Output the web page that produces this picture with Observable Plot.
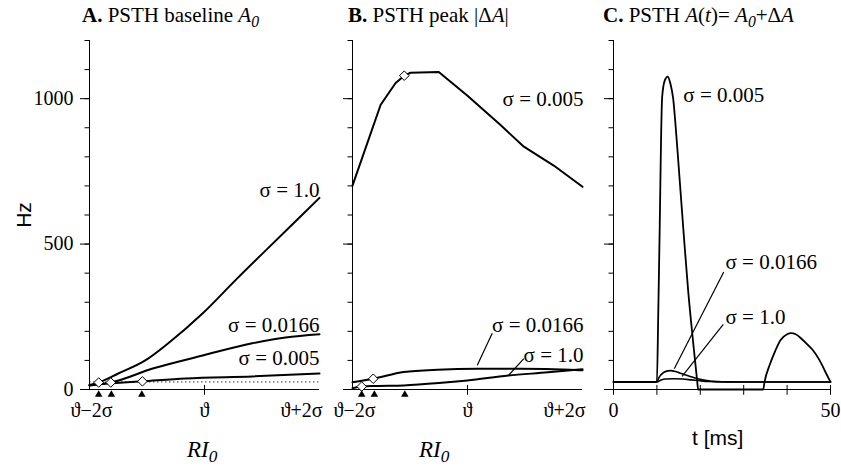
<!DOCTYPE html>
<html><head><meta charset="utf-8">
<script src="https://cdn.jsdelivr.net/npm/d3@7"></script>
<script src="https://cdn.jsdelivr.net/npm/@observablehq/plot@0.6"></script>
<style>
body{margin:0;background:#fff;}
#wrap{position:relative;width:841px;height:466px;overflow:hidden;font-family:"Liberation Serif",serif;color:#000;}
.lbl{position:absolute;white-space:nowrap;line-height:1;}
.title{font-size:21px;top:5px;}
.title i sub, .ri sub{font-size:0.75em;vertical-align:-0.3em;line-height:0;}
.ri{font-size:23px;font-style:italic;top:438px;}
.sans{font-family:"Liberation Sans",Arial,sans-serif;font-size:21px;}
.panel{position:absolute;top:0;}
</style></head><body><div id="wrap">
<div class="lbl title" style="left:82px"><b>A.</b> PSTH baseline <i>A<sub>0</sub></i></div>
<div class="lbl title" style="left:348px"><b>B.</b> PSTH peak |Δ<i>A</i>|</div>
<div class="lbl title" style="left:603px"><b>C.</b> PSTH <i>A</i>(<i>t</i>)= <i>A<sub>0</sub></i>+Δ<i>A</i></div>
<div class="lbl sans" style="left:23px;top:215px;transform:translate(-50%,-50%) rotate(-90deg);">Hz</div>
<div class="lbl ri" style="left:187px">RI<sub>0</sub></div>
<div class="lbl ri" style="left:419px">RI<sub>0</sub></div>
<div class="lbl sans" style="left:692px;top:427px;">t [ms]</div>
</div>
<script>
// ---------- data ----------
const xTicks = [-2, 0, 2];
const xTickLabels = ["ϑ−2σ", "ϑ", "ϑ+2σ"];
const yMajor = [0, 500, 1000];
const yMinor = d3.range(0, 1201, 100);
const tTicks = [0, 10, 20, 30, 40, 50];
const tTickLabels = [0, 50];
const triangleX = [-1.84, -1.62, -1.09];
const baselineRate = 26;

// Panel A: baseline A0 vs RI0 (RI0 in units of sigma around theta)
const baseS1 = [[-2,14],[-1.84,24],[-1.5,55],[-1.03,100],[-0.63,159],[-0.03,262],[0.54,376],[1.11,487],[1.7,601],[2,659]];
const baseS0166 = [[-2,14],[-1.63,24],[-0.9,72],[-0.03,117],[0.83,159],[1.41,179],[2,190]];
const baseS005 = [[-2,16],[-1.08,28],[-0.33,38],[0.83,45],[2,55]];
const baseDiamonds = [[-1.84,24],[-1.63,24],[-1.08,28]];
const labelsA = [[2,686,"σ = 1.0"],[2,221,"σ = 0.0166"],[2,107,"σ = 0.005"]];

// Panel B: peak |ΔA| vs RI0
const peakS005 = [[-2,701],[-1.51,979],[-1.25,1054],[-1.1,1079],[-0.99,1089],[-0.5,1092],[0,1010],[0.57,910],[0.98,835],[1.5,770],[2,697]];
const peakS0166 = [[-2,25],[-1.64,37],[-1.11,60],[-0.52,68],[0.17,71],[0.92,71],[1.79,68],[2,66]];
const peakS1 = [[-2,4],[-1.84,10],[-1.6,12],[-1.11,14],[-0.5,22],[0,31],[0.71,48],[1.4,59],[2,70]];
const peakDiamonds = [[-1.84,10],[-1.64,37],[-1.1,1079]];
const labelsB = [[2,997,"σ = 0.005"],[2,222,"σ = 0.0166"],[2,117,"σ = 1.0"]];
const leadersB = [[0.43,193,0.17,83],[0.98,106,0.71,48]];

// Panel C: PSTH A(t) vs t [ms]
const psthS005 = [[0,26],[10,26],[10.3,250],[10.6,514],[11.2,1003],[11.8,1062],[12.5,1076],[13.1,1052],[13.75,1000],[14.5,870],[15.3,710],[16.2,530],[17.2,340],[18.3,170],[19.3,26],[19.5,0],[34.5,0],[34.8,26],[36,85],[37.3,134],[38.5,170],[40,190],[40.9,194],[42,190],[43.5,172],[45,150],[46,134],[47.5,100],[49,55],[50,26]];
const psthS0166 = [[0,26],[10,26],[10.5,42],[11.5,58],[12.5,64],[13.2,65],[14,63],[15,58],[16,53],[17,48],[18.5,41],[20,35],[21.6,31],[23,28],[25,26.5],[30,26],[50,26]];
const psthS1 = [[0,26],[10,26],[11,33],[12,36],[14,37],[16,36],[18,33],[20,30],[22,27.5],[25,26],[50,26]];
const labelsC = [[16.1,1010,"σ = 0.005"],[25.8,438,"σ = 0.0166"],[25.8,248,"σ = 1.0"]];
const leadersC = [[25.4,404,14.0,71],[25.3,224,15.8,45]];

// ---------- drawing ----------
const X = d => d[0], Y = d => d[1];
const serif = "'Liberation Serif', 'DejaVu Serif', serif";

function yAxisMarks(withLabels) {
  return [
    Plot.axisY({ticks: yMinor, tickSize: 4.5, tickFormat: () => "", anchor: "left"}),
    Plot.axisY({ticks: yMajor, tickSize: 9, tickPadding: 7, anchor: "left",
      tickFormat: withLabels ? (d => String(d)) : (() => ""), fontSize: 20})
  ];
}

function panel(opts) {
  return Plot.plot({
    width: opts.width, height: 466,
    marginTop: 40, marginBottom: 77, marginLeft: opts.ml, marginRight: opts.mr,
    x: {domain: opts.xDomain, axis: null, label: null},
    y: {domain: [0, 1200], axis: null, label: null},
    style: {fontFamily: serif, fontSize: "20px", background: "transparent", overflow: "visible", color: "#000"},
    marks: opts.marks
  });
}

function xLabelMarks() {
  return [
    Plot.text(xTicks, {filter: (d, i) => i === 0, x: d => d, y: 0, dy: 21, dx: 2, text: (d) => xTickLabels[xTicks.indexOf(d)], fontSize: 20}),
    Plot.text(xTicks, {filter: (d, i) => i === 1, x: d => d, y: 0, dy: 21, text: (d) => xTickLabels[xTicks.indexOf(d)], fontSize: 20}),
    Plot.text(xTicks, {filter: (d, i) => i === 2, x: d => d, y: 0, dy: 21, dx: 3, textAnchor: "end", text: (d) => xTickLabels[xTicks.indexOf(d)], fontSize: 20})
  ];
}

const lineOpt = {x: X, y: Y, stroke: "#000", strokeWidth: 2, curve: "monotone-x"};

const A = panel({
  width: 330, ml: 89, mr: 11, xDomain: [-2, 2],
  marks: [
    Plot.ruleY([baselineRate], {stroke: "#000", strokeWidth: 0.8, strokeDasharray: "1.5,2.5"}),
    ...yAxisMarks(true),
    Plot.ruleX([-2], {stroke: "#000", strokeWidth: 1}),
    Plot.ruleY([0], {stroke: "#000", strokeWidth: 1.2}),
    Plot.ruleX([0], {y1: -20, y2: 14, stroke: "#000"}),
    ...xLabelMarks(),
    Plot.line(baseS1, lineOpt),
    Plot.line(baseS0166, lineOpt),
    Plot.line(baseS005, lineOpt),
    Plot.dot(baseDiamonds, {x: X, y: Y, symbol: "diamond2", r: 4.3, fill: "white", stroke: "#000", strokeWidth: 1}),
    Plot.dot(triangleX, {x: d => d, y: 0, dy: 5, symbol: "triangle", r: 2.8, fill: "#000"}),
    Plot.text(labelsA, {x: X, y: Y, text: d => d[2], textAnchor: "end", fontSize: 21})
  ]
});

const B = panel({
  width: 265, ml: 22, mr: 13, xDomain: [-2, 2],
  marks: [
    ...yAxisMarks(false),
    Plot.ruleX([-2], {stroke: "#000", strokeWidth: 1}),
    Plot.ruleY([0], {stroke: "#000", strokeWidth: 1.2}),
    Plot.ruleX([0], {y1: -20, y2: 14, stroke: "#000"}),
    ...xLabelMarks(),
    Plot.line(peakS005, {...lineOpt, curve: "linear"}),
    Plot.line(peakS0166, lineOpt),
    Plot.line(peakS1, lineOpt),
    Plot.link(leadersB, {x1: d => d[0], y1: d => d[1], x2: d => d[2], y2: d => d[3], stroke: "#000", strokeWidth: 1.2}),
    Plot.dot(peakDiamonds, {x: X, y: Y, symbol: "diamond2", r: 4.3, fill: "white", stroke: "#000", strokeWidth: 1}),
    Plot.dot(triangleX, {x: d => d, y: 0, dy: 5, symbol: "triangle", r: 2.8, fill: "#000"}),
    Plot.text(labelsB, {x: X, y: Y, text: d => d[2], textAnchor: "end", dx: 1, fontSize: 21})
  ]
});

const C = panel({
  width: 246, ml: 18, mr: 11, xDomain: [0, 50],
  marks: [
    ...yAxisMarks(false),
    Plot.ruleX([0], {stroke: "#000", strokeWidth: 1}),
    Plot.ruleY([0], {stroke: "#000", strokeWidth: 1.2}),
    Plot.ruleX(tTicks, {y1: -20, y2: 14, stroke: "#000"}),
    Plot.text(tTickLabels, {x: d => d, y: 0, dy: 21, text: d => String(d), fontSize: 20}),
    Plot.line(psthS1, {...lineOpt, strokeWidth: 1.6}),
    Plot.line(psthS0166, {...lineOpt, strokeWidth: 1.6}),
    Plot.line(psthS005, {...lineOpt, strokeWidth: 1.8}),
    Plot.link(leadersC, {x1: d => d[0], y1: d => d[1], x2: d => d[2], y2: d => d[3], stroke: "#000", strokeWidth: 1.2}),
    Plot.text(labelsC, {x: X, y: Y, text: d => d[2], textAnchor: "start", fontSize: 21})
  ]
});

const wrap = document.getElementById("wrap");
[[A, 0, 330], [B, 330, 265], [C, 595, 246]].forEach(([svg, left, w]) => {
  const div = document.createElement("div");
  div.className = "panel";
  div.style.left = left + "px";
  div.style.width = w + "px";
  div.appendChild(svg);
  wrap.insertBefore(div, wrap.firstChild);
});
</script>
</body></html>
